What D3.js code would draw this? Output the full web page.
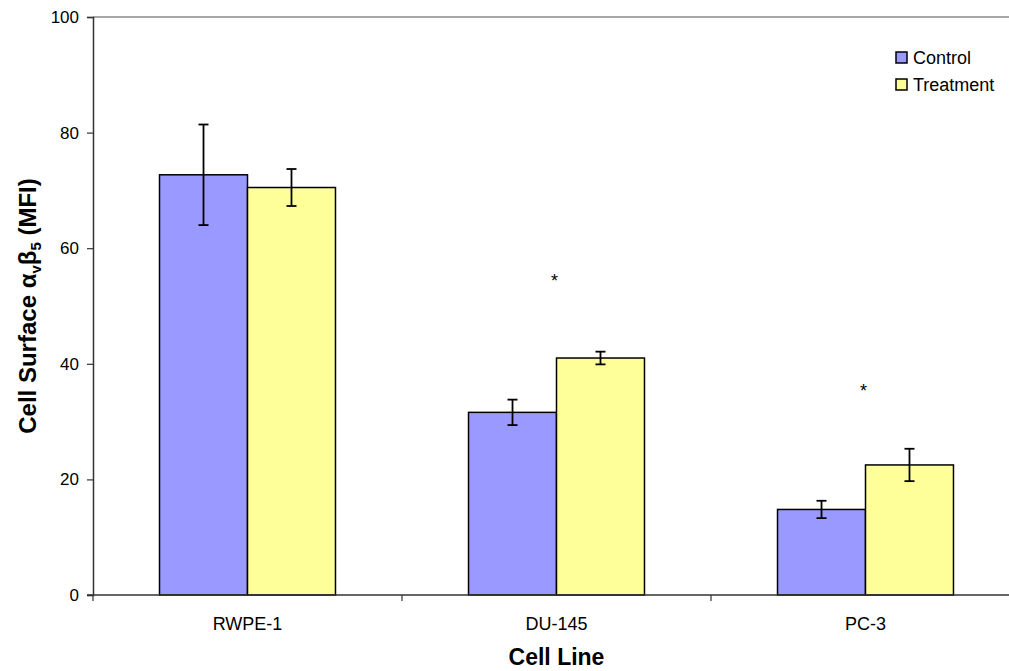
<!DOCTYPE html>
<html>
<head>
<meta charset="utf-8">
<script src="https://cdn.jsdelivr.net/npm/d3@7"></script>
<style>
  body { margin: 0; background: #fff; }
  text { font-family: "Liberation Sans", Arial, sans-serif; fill: #000; }
</style>
</head>
<body>
<svg id="chart" width="1009" height="671"></svg>
<script>
// data
var cellLines = ["RWPE-1", "DU-145", "PC-3"];
var seriesNames = ["Control", "Treatment"];
var controlMean = [72.7, 31.6, 14.8];
var controlErr = [8.7, 2.2, 1.5];
var treatmentMean = [70.5, 41.0, 22.5];
var treatmentErr = [3.2, 1.1, 2.8];
var starValues = [null, 55, 36];
var yTicks = [0, 20, 40, 60, 80, 100];
var colors = ["#9999FF", "#FFFF99"];

var svg = d3.select("#chart");
var pLeft = 93, pRight = 1020, pTop = 17, pBottom = 595;

var x = d3.scaleBand().domain(cellLines).range([pLeft, pRight]).padding(0);
var xs = d3.scaleBand().domain(seriesNames).range([0, x.bandwidth()])
	.paddingInner(0).paddingOuter(0.756);
var y = d3.scaleLinear().domain([0, 100]).range([pBottom, pTop]);

var rows = cellLines.map(function(c, i){
	return [
		{cat: c, s: "Control", v: controlMean[i], e: controlErr[i], col: colors[0]},
		{cat: c, s: "Treatment", v: treatmentMean[i], e: treatmentErr[i], col: colors[1]}
	];
});

// plot border (top)
svg.append("line")
   .attr("x1", pLeft).attr("x2", pRight)
   .attr("y1", pTop).attr("y2", pTop)
   .style("stroke", "#888").style("stroke-width", 1.5);

// bars
var groups = svg.selectAll(".grp")
	.data(rows)
	.enter()
	.append("g")
	.attr("transform", d=>"translate(" + x(d[0].cat) + ",0)");

groups.selectAll("rect")
	.data(d=>d)
	.enter()
	.append("rect")
	.attr("x", d=>xs(d.s))
	.attr("y", d=>y(d.v))
	.attr("width", xs.bandwidth())
	.attr("height", d=>y(0) - y(d.v))
	.style("fill", d=>d.col)
	.style("stroke", "#000")
	.style("stroke-width", 1.5);

// error bars
var eb = groups.selectAll(".err")
	.data(d=>d)
	.enter()
	.append("g")
	.attr("transform", d=>"translate(" + (xs(d.s) + xs.bandwidth() / 2) + ",0)")
	.style("stroke", "#000")
	.style("stroke-width", 1.8);
eb.append("line").attr("x1", 0).attr("x2", 0)
  .attr("y1", d=>y(d.v + d.e)).attr("y2", d=>y(d.v - d.e));
eb.append("line").attr("x1", -5).attr("x2", 5)
  .attr("y1", d=>y(d.v + d.e)).attr("y2", d=>y(d.v + d.e));
eb.append("line").attr("x1", -5).attr("x2", 5)
  .attr("y1", d=>y(d.v - d.e)).attr("y2", d=>y(d.v - d.e));

// significance stars
svg.selectAll(".star")
	.data(cellLines.map((c, i)=>({cat: c, v: starValues[i]})).filter(d=>d.v != null))
	.enter()
	.append("text")
	.attr("x", d=>x(d.cat) + x.bandwidth() / 2 - 2)
	.attr("y", d=>y(d.v) + 10)
	.attr("text-anchor", "middle")
	.style("font-size", "18px")
	.text("*");

// y axis
var yAxis = svg.append("g")
	.attr("transform", "translate(" + pLeft + ",0)")
	.call(d3.axisLeft(y).tickValues(yTicks).tickSize(6).tickPadding(8));
yAxis.select(".domain").style("stroke", "#333").style("stroke-width", 1.5);
yAxis.selectAll(".tick line").style("stroke", "#333").style("stroke-width", 1.2);
yAxis.selectAll("text").style("font-size", "17px")
	.style("font-family", "'Liberation Sans', Arial, sans-serif");

// x axis (ticks at category boundaries)
var xAxis = svg.append("g")
	.attr("transform", "translate(0," + pBottom + ")");
xAxis.append("line")
	.attr("x1", pLeft - 6).attr("x2", pRight)
	.style("stroke", "#333").style("stroke-width", 1.5);
xAxis.selectAll(".bt")
	.data(cellLines.concat(["end"]))
	.enter()
	.append("line")
	.attr("x1", (d, i)=>pLeft + i * x.step())
	.attr("x2", (d, i)=>pLeft + i * x.step())
	.attr("y1", 0).attr("y2", 6)
	.style("stroke", "#333").style("stroke-width", 1.2);
xAxis.selectAll(".lbl")
	.data(cellLines)
	.enter()
	.append("text")
	.attr("x", d=>x(d) + x.bandwidth() / 2)
	.attr("y", 35)
	.attr("text-anchor", "middle")
	.style("font-size", "18px")
	.text(d=>d);

// axis titles
svg.append("text")
	.attr("x", (pLeft + pRight) / 2)
	.attr("y", 665)
	.attr("text-anchor", "middle")
	.style("font-size", "23px")
	.style("font-weight", "bold")
	.text("Cell Line");

var yt = svg.append("text")
	.attr("transform", "translate(36," + ((pTop + pBottom) / 2) + ") rotate(-90)")
	.attr("text-anchor", "middle")
	.style("font-size", "24px")
	.style("font-weight", "bold");
yt.append("tspan").text("Cell Surface α");
yt.append("tspan").attr("dy", 5).style("font-size", "15px").text("v");
yt.append("tspan").attr("dy", -5).text("β");
yt.append("tspan").attr("dy", 5).style("font-size", "15px").text("5");
yt.append("tspan").attr("dy", -5).text(" (MFI)");

// legend
var lg = svg.selectAll(".leg")
	.data(seriesNames)
	.enter()
	.append("g")
	.attr("transform", (d, i)=>"translate(896," + (52 + i * 27) + ")");
lg.append("rect")
	.attr("width", 11).attr("height", 11)
	.style("fill", (d, i)=>colors[i])
	.style("stroke", "#000").style("stroke-width", 1.5);
lg.append("text")
	.attr("x", 17).attr("y", 12)
	.style("font-size", "18px")
	.text(d=>d);
</script>
</body>
</html>
